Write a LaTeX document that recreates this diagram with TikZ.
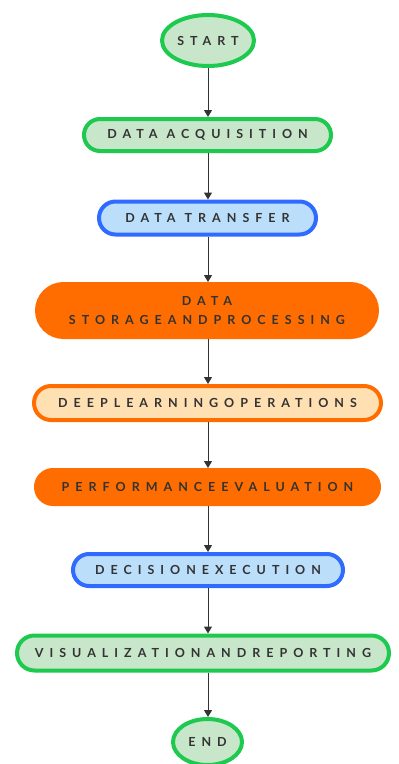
\documentclass[tikz,border=0pt]{standalone}
\usepackage{fontspec}
\usetikzlibrary{shapes.misc,shapes.geometric,arrows.meta}
\newfontfamily\lblfont{Lato}[LetterSpace=48]
\definecolor{gborder}{HTML}{1DC94E}
\definecolor{gfill}{HTML}{C8E6C9}
\definecolor{bborder}{HTML}{2F6BFF}
\definecolor{bfill}{HTML}{BBDEFB}
\definecolor{oran}{HTML}{FF6D00}
\definecolor{peach}{HTML}{FFE0B2}
\definecolor{txt}{HTML}{333333}
\definecolor{arr}{HTML}{333333}
\tikzset{
  base/.style={line width=4pt, inner sep=0pt, font=\lblfont\bfseries\fontsize{12.5}{19}\selectfont, text=txt, align=center},
  pill/.style={base, rounded rectangle},
  oval/.style={base, ellipse},
  green/.style={draw=gborder, fill=gfill},
  blue/.style={draw=bborder, fill=bfill},
  orangebox/.style={draw=oran, fill=oran},
  peachbox/.style={draw=oran, fill=peach},
  flow/.style={draw=arr, line width=1pt, -{Triangle[length=7pt,width=8pt]}}
}
\begin{document}
\begin{tikzpicture}[x=1pt,y=-1pt]
\useasboundingbox (0,0) rectangle (399,764);
\node[oval,green,minimum width=92pt,minimum height=51pt] (start) at (208,40.5) {START};
\node[pill,green,minimum width=247pt,minimum height=32pt] (acq) at (207.5,135) {DATA ACQUISITION};
\node[pill,blue,minimum width=217pt,minimum height=33pt] (trans) at (207.5,218) {DATA TRANSFER};
\node[pill,orangebox,minimum width=340pt,minimum height=53pt] (stor) at (207,310.5) {DATA\\STORAGEANDPROCESSING};
\node[pill,peachbox,minimum width=347pt,minimum height=34pt] (deep) at (207.5,403) {DEEPLEARNINGOPERATIONS};
\node[pill,orangebox,minimum width=343pt,minimum height=34pt] (perf) at (207.5,487) {PERFORMANCEEVALUATION};
\node[pill,blue,minimum width=270pt,minimum height=32pt] (dec) at (208,570) {DECISIONEXECUTION};
\node[pill,green,minimum width=372pt,minimum height=35pt] (vis) at (203,653) {VISUALIZATIONANDREPORTING};
\node[oval,green,minimum width=69pt,minimum height=46pt] (end) at (207.5,742) {END};
\draw[flow] (start.south) -- (start.south |- acq.north);
\draw[flow] (acq.south -| start.south) -- (start.south |- trans.north);
\draw[flow] (trans.south -| start.south) -- (start.south |- stor.north);
\draw[flow] (stor.south -| start.south) -- (start.south |- deep.north);
\draw[flow] (deep.south -| start.south) -- (start.south |- perf.north);
\draw[flow] (perf.south -| start.south) -- (start.south |- dec.north);
\draw[flow] (dec.south -| start.south) -- (start.south |- vis.north);
\draw[flow] (vis.south -| start.south) -- (start.south |- end.north);
\end{tikzpicture}
\end{document}
